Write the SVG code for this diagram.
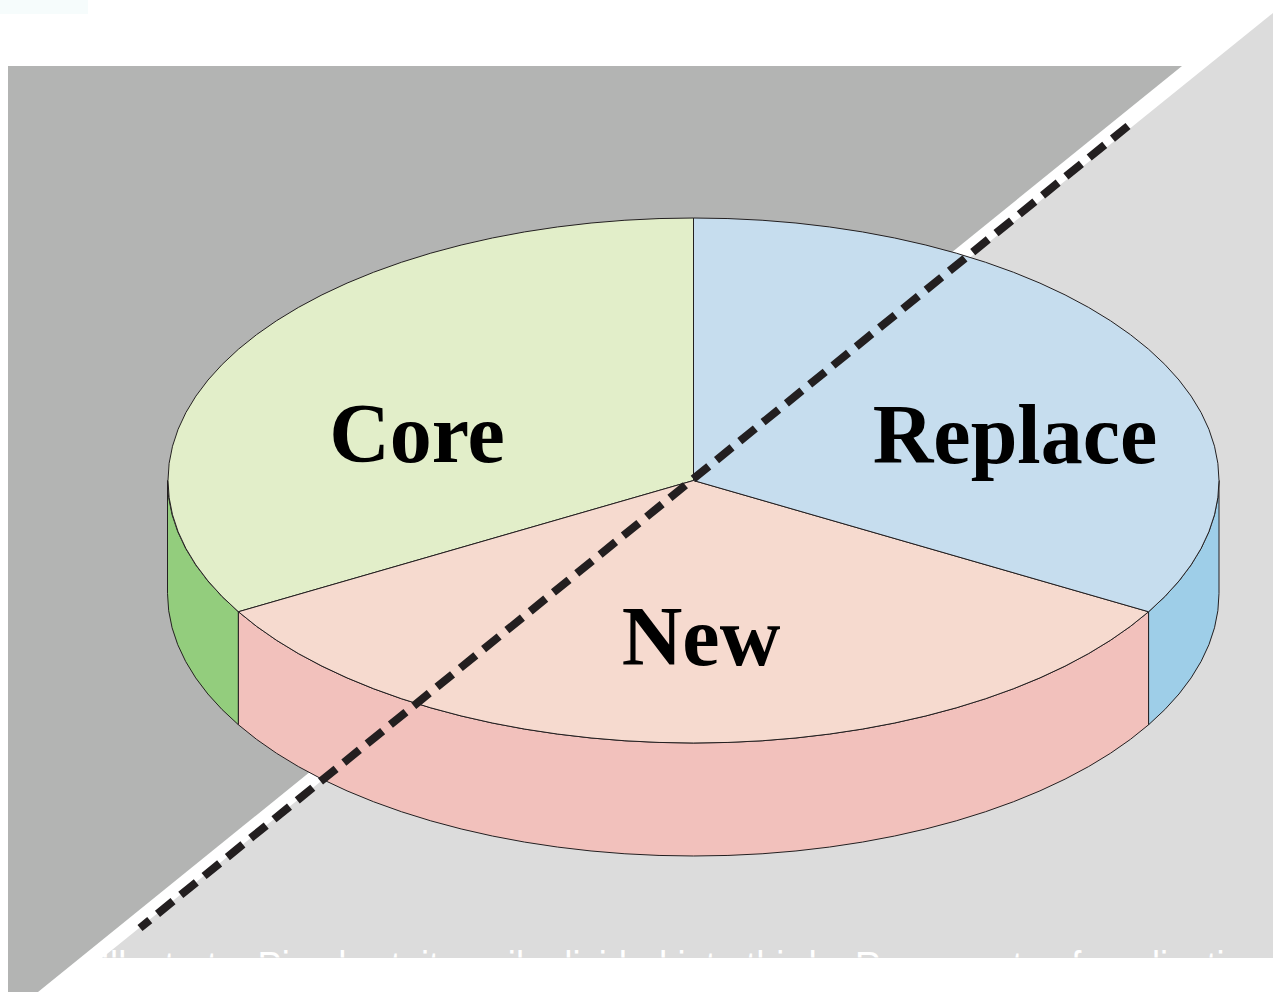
<svg xmlns="http://www.w3.org/2000/svg" width="1273" height="992" viewBox="0 0 1273 992">
  <style>
    .edge { stroke: #231f20; stroke-width: 1; stroke-linejoin: round; }
    .label { font-family: "Liberation Serif", "Times New Roman", serif; font-weight: bold; font-size: 84px; fill: #000000; text-anchor: middle; }
    .caption { font-family: "Liberation Sans", Arial, sans-serif; font-size: 40px; fill: #ffffff; }
    .divider { fill: none; stroke: #231f20; stroke-width: 8; stroke-dasharray: 20 10; stroke-linecap: butt; }
  </style>
  <defs>
    <clipPath id="captionClip">
      <rect x="0" y="900" width="1273" height="57.5"/>
    </clipPath>
  </defs>
  <rect x="0" y="0" width="1273" height="992" fill="#ffffff"/>
  <g id="background">
    <rect x="0" y="0" width="88" height="14" fill="#f6fcfc"/>
    <polygon points="8,66 1182,66 38,992 8,992" fill="#b3b4b3"/>
    <polygon points="1273,13 1273,958 102,958" fill="#dcdcdc"/>
    <g clip-path="url(#captionClip)">
      <text class="caption" x="100" y="980" textLength="1165" lengthAdjust="spacingAndGlyphs">Illustrate: Pie chart, it easily divided into thirds. Represents of application</text>
    </g>
  </g>
  <g id="pie">
    <g id="core">
      <path class="edge" fill="#93cd7d" d="M167.5,480.5 A525.5,262.5 0 0 0 238.4,611.75 L238.4,724.75 A525.5,262.5 0 0 1 167.5,593.5 Z"/>
      <path class="edge" fill="#e2eec9" d="M693.5,480.5 L693.5,218 A525.5,262.5 0 0 0 238.4,611.75 Z"/>
      <text class="label" x="417" y="462">Core</text>
    </g>
    <g id="new">
      <path class="edge" fill="#f2c1bc" d="M238.4,611.75 A525.5,262.5 0 0 0 1148.6,611.75 L1148.6,724.75 A525.5,262.5 0 0 1 238.4,724.75 Z"/>
      <path class="edge" fill="#f6dacf" d="M693.5,480.5 L238.4,611.75 A525.5,262.5 0 0 0 1148.6,611.75 Z"/>
      <text class="label" x="701" y="665">New</text>
    </g>
    <g id="replace">
      <path class="edge" fill="#9ecee8" d="M1148.6,611.75 A525.5,262.5 0 0 0 1219,480.5 L1219,593.5 A525.5,262.5 0 0 1 1148.6,724.75 Z"/>
      <path class="edge" fill="#c6ddee" d="M693.5,480.5 L693.5,218 A525.5,262.5 0 0 1 1148.6,611.75 Z"/>
      <text class="label" x="1015" y="463">Replace</text>
    </g>
  </g>
  <g id="connectors">
    <line class="divider" x1="1128" y1="126" x2="140" y2="928"/>
  </g>
</svg>
